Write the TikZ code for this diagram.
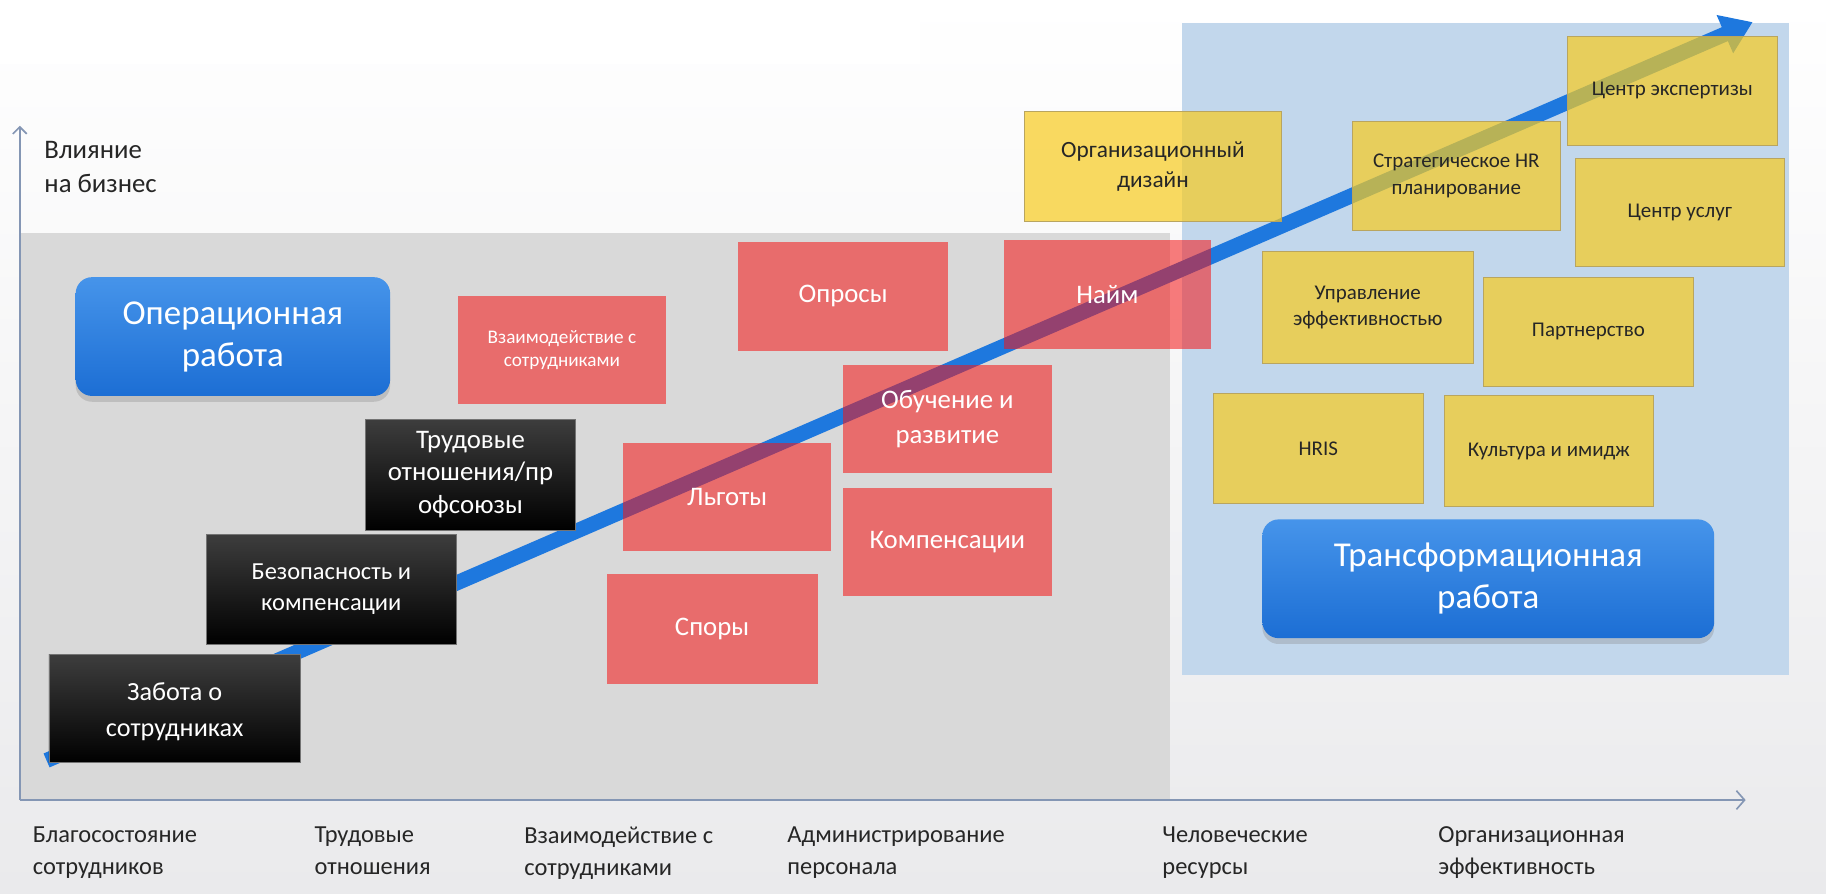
\documentclass[tikz,border=0pt]{standalone}
\usepackage{fontspec}
\setmainfont{Carlito}
\usetikzlibrary{arrows.meta,shadows}
\definecolor{panelgray}{RGB}{217,217,217}
\definecolor{panelblue}{RGB}{194,215,236}
\definecolor{arrowblue}{RGB}{30,120,222}
\definecolor{redfill}{RGB}{245,20,20}
\definecolor{yelfill}{RGB}{248,203,31}
\definecolor{yelborder}{RGB}{185,165,95}
\definecolor{axiscol}{RGB}{132,150,180}
\definecolor{btop}{RGB}{70,148,234}
\definecolor{bbot}{RGB}{28,110,212}
\definecolor{txt}{RGB}{38,38,38}
\tikzset{
  fs/.style n args={2}{font=\fontsize{#1}{#2}\selectfont},
  boxbase/.style={minimum width=180pt, minimum height=94pt, inner sep=2pt, align=center},
  redbox/.style={boxbase, fill=redfill, fill opacity=0.55, text opacity=1, text=white, fs={23}{30}},
  yelbox/.style={boxbase, fill=yelfill, fill opacity=0.7, draw=yelborder, draw opacity=1, line width=0.8pt, text opacity=1, text=txt, fs={18}{23}},
  blkbox/.style={boxbase, top color=black!76, bottom color=black, draw=black!55, line width=0.6pt, text=white},
  bluebox/.style={minimum height=102pt, align=center, rounded corners=14pt, top color=btop, bottom color=bbot, text=white, fs={30}{36}, drop shadow={shadow xshift=0pt, shadow yshift=-5pt, opacity=0.3}},
  axisline/.style={draw=axiscol, line width=1.4pt},
  lab/.style={anchor=north west, inner sep=0pt, align=left, text=txt, fs={21}{27}}
}
\begin{document}
\begin{tikzpicture}[x=1pt,y=-1pt]
\useasboundingbox (0,0) rectangle (1568,767);
\shade[top color=white, bottom color={rgb,255:red,234;green,234;blue,236}] (0,0) rectangle (1568,767);
\fill[white] (0,0) rectangle (790,55);
% panels
\fill[panelgray] (18,200) rectangle (1005,687);
\fill[panelblue] (1015,20) rectangle (1536,580);
% axes
\coordinate (O) at (17,687);
\coordinate (Ytop) at (17,108);
\coordinate (Xend) at (1499,687);
\draw[axisline, -{Straight Barb[length=6pt,width=12pt]}] (O) -- (Ytop);
\draw[axisline, -{Straight Barb[length=7pt,width=16pt]}] (O) -- (Xend);
\node[lab, fs={23}{29}] (yl) at (38,121) {Влияние\\на бизнес};
% bottom labels
\node[lab] (l1) at (28,710) {Благосостояние\\сотрудников};
\node[lab] (l2) at (270,710) {Трудовые\\отношения};
\node[lab] (l3) at (450,710) {Взаимодействие с\\сотрудниками};
\node[lab] (l4) at (676,710) {Администрирование\\персонала};
\node[lab] (l5) at (998,710) {Человеческие\\ресурсы};
\node[lab] (l6) at (1235,710) {Организационная\\эффективность};
% big arrow
\coordinate (As) at (40,653);
\coordinate (Ae) at (1505,19);
\draw[line width=13pt, arrowblue, -{Triangle[length=26pt,width=34pt]}] (As) -- (Ae);
% red boxes
\node[redbox, fs={16.5}{20}, minimum width=179pt, minimum height=93pt] (vz) at (482.5,300.5) {\raisebox{-4pt}{}Взаимодействие с\\сотрудниками};
\node[redbox, minimum height=93pt] (opr) at (724,254.5) {Опросы};
\node[redbox, minimum width=178pt] (naim) at (951,253) {Найм};
\node[redbox, minimum width=179pt, minimum height=93pt] (obuch) at (813.5,359.5) {Обучение и\\развитие};
\node[redbox, minimum width=179pt, minimum height=93pt] (lgot) at (624.5,426.5) {Льготы};
\node[redbox, minimum width=179pt, minimum height=93pt] (komp) at (813.5,465.5) {Компенсации};
\node[redbox, minimum width=181pt] (spor) at (611.5,540) {Споры};
% yellow boxes
\node[yelbox, fs={20}{25}, minimum width=220pt] (org) at (990,143) {Организационный\\дизайн};
\node[yelbox, minimum width=179pt] (strat) at (1250.5,151) {Стратегическое HR\\планирование};
\node[yelbox] (cexp) at (1436,78) {Центр экспертизы};
\node[yelbox, minimum width=179pt, minimum height=93pt] (cusl) at (1442.5,182.5) {Центр услуг};
\node[yelbox, minimum width=181pt, minimum height=96pt] (upr) at (1174.5,264) {Управление\\эффективностью};
\node[yelbox] (partn) at (1364,285) {Партнерство};
\node[yelbox] (hris) at (1132,385) {HRIS};
\node[yelbox, minimum height=95pt] (kult) at (1330,387.5) {Культура и имидж};
% black boxes
\node[blkbox, fs={22.5}{31}, minimum width=216pt, minimum height=93pt] (zab) at (150,608.5) {\rule{0pt}{20pt}Забота о\\сотрудниках};
\node[blkbox, fs={21}{26}, minimum width=215pt] (bez) at (284.5,506) {Безопасность и\\компенсации};
\node[blkbox, fs={23}{28}, minimum width=180pt, minimum height=95pt] (trud) at (404,407.5) {Трудовые\\отношения/пр\\офсоюзы};
% blue rounded boxes
\node[bluebox, minimum width=270pt] (oper) at (200,289) {Операционная\\работа};
\node[bluebox, minimum width=388pt] (trans) at (1278,497) {Трансформационная\\работа};
\end{tikzpicture}
\end{document}
